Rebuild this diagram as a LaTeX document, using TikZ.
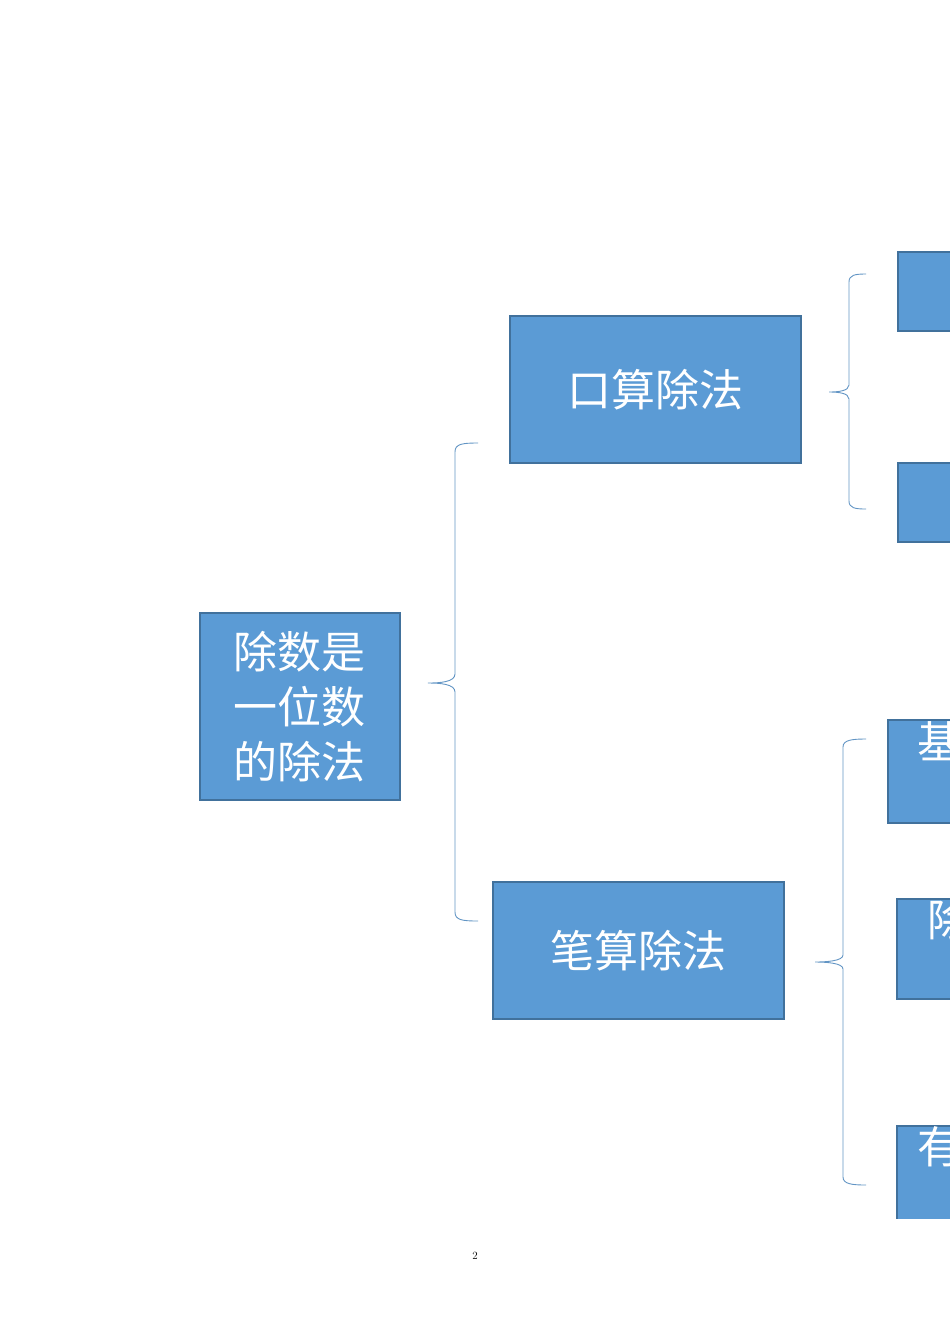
\documentclass[tikz,border=0pt]{standalone}
\usepackage{fontspec}
\newfontfamily\cjk{Noto Sans CJK SC}
\definecolor{boxfill}{HTML}{5B9BD5}
\definecolor{boxline}{HTML}{41719C}
\begin{document}
\begin{tikzpicture}[x=1pt,y=-1pt,
  bx/.style={draw=boxline,line width=1.5pt,fill=boxfill,text=white,font=\cjk\fontsize{44}{56}\selectfont,inner sep=0pt,anchor=north west},
  br/.style={draw=boxfill!80!gray,line width=0.9pt}]
\useasboundingbox (0,0) rectangle (950,1344);
\node[bx,minimum width=200,minimum height=187,align=center] (root) at (199,612) {除数是\\[-1pt]一位数\\[-1pt]的除法};
\node[bx,minimum width=291,minimum height=147] (ks) at (509,315) {口算除法};
\node[bx,minimum width=291,minimum height=137] (bs) at (492,881) {笔算除法};
\begin{scope}
\clip (0,0) rectangle (950,1218);
\node[bx,minimum width=80,minimum height=79] (r1) at (897,251) {};
\node[bx,minimum width=80,minimum height=79] (r2) at (897,462) {};
\node[bx,minimum width=90,minimum height=103] (r3) at (887,719) {};
\node[bx,minimum width=90,minimum height=100] (r4) at (896,898) {};
\node[bx,minimum width=90,minimum height=110] (r5) at (896,1125) {};
\node[text=white,font=\cjk\fontsize{44}{50}\selectfont,anchor=west] (t3) at (914,742) {基本};
\node[text=white,font=\cjk\fontsize{44}{50}\selectfont,anchor=west] (t4) at (924,920) {除};
\node[text=white,font=\cjk\fontsize{44}{50}\selectfont,anchor=west] (t5) at (914,1147) {有余};
\end{scope}
\draw[br] (478,443) .. controls (462,443) and (455,444) .. (455,452) -- (455,674) .. controls (455,682) and (440,683) .. (428,683) .. controls (440,683) and (455,684) .. (455,692) -- (455,912) .. controls (455,920) and (462,921) .. (478,921);
\draw[br] (866,274) .. controls (855,274) and (849,275) .. (849,282) -- (849,385) .. controls (849,391) and (838,392) .. (829,392) .. controls (838,392) and (849,393) .. (849,399) -- (849,501) .. controls (849,508) and (855,509) .. (866,509);
\draw[br] (866,739) .. controls (852,739) and (843,740) .. (843,747) -- (843,955) .. controls (843,961) and (826,962) .. (815,962) .. controls (826,962) and (843,963) .. (843,969) -- (843,1177) .. controls (843,1184) and (852,1185) .. (866,1185);
\node[font=\fontsize{11}{13}\selectfont] (pg) at (475,1256) {2};
\end{tikzpicture}
\end{document}
